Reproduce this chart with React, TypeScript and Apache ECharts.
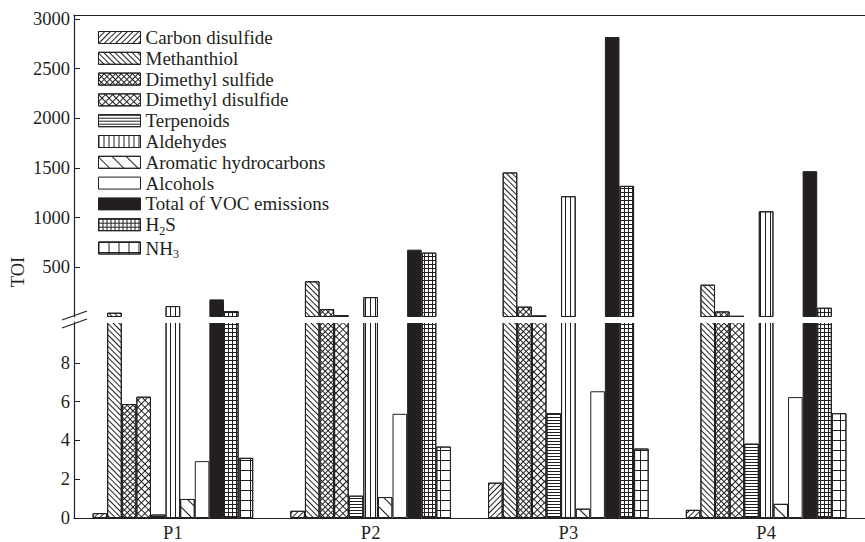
import React, { useEffect, useRef } from 'react';
import * as echarts from 'echarts';

// ---------- data ----------
const categories = ['P1', 'P2', 'P3', 'P4'];
const seriesNames = [
  'Carbon disulfide',
  'Methanthiol',
  'Dimethyl sulfide',
  'Dimethyl disulfide',
  'Terpenoids',
  'Aldehydes',
  'Aromatic hydrocarbons',
  'Alcohols',
  'Total of VOC emissions',
  'H2S',
  'NH3',
];
const carbonDisulfide = [0.25, 0.37, 1.82, 0.42];
const methanthiol = [43, 359, 1455, 325];
const dimethylSulfide = [5.87, 80, 104, 56];
const dimethylDisulfide = [6.25, 18, 16, 12];
const terpenoids = [0.18, 1.15, 5.4, 3.83];
const aldehydes = [110, 200, 1216, 1064];
const aromaticHydrocarbons = [0.98, 1.08, 0.48, 0.73];
const alcohols = [2.93, 5.37, 6.53, 6.23];
const totalVOC = [177, 678, 2818, 1468];
const h2s = [60, 648, 1320, 93];
const nh3 = [3.1, 3.68, 3.58, 5.4];

const lowerTicks = [0, 2, 4, 6, 8];
const upperTicks = [500, 1000, 1500, 2000, 2500, 3000];
const LOWER_MAX = 10.1;
const UPPER_MAX = 3040;

const valuesList = [
  carbonDisulfide,
  methanthiol,
  dimethylSulfide,
  dimethylDisulfide,
  terpenoids,
  aldehydes,
  aromaticHydrocarbons,
  alcohols,
  totalVOC,
  h2s,
  nh3,
];

// ---------- styles ----------
const INK = '#231f20';
const FONT = 'Liberation Serif';

const lines = (rotation: number, gap: number) => ({
  symbol: 'rect',
  symbolSize: 1,
  symbolKeepAspect: false,
  color: INK,
  dashArrayX: [10, 0],
  dashArrayY: [1, gap],
  rotation,
});
// grid of 1px lines: a full line row followed by a row of vertical segments
const gridLines = (px: number, py: number, rotation: number) => ({
  symbol: 'rect',
  symbolSize: 1,
  symbolKeepAspect: false,
  color: INK,
  dashArrayX: [
    [px, 0],
    [1, px - 1],
  ],
  dashArrayY: [1, 0, py - 1, 0],
  rotation,
});

const decals: any[] = [
  lines(-Math.PI / 4, 3), // Carbon disulfide ////
  lines(Math.PI / 4, 3), // Methanthiol \\\\
  gridLines(4, 4, Math.PI / 4), // Dimethyl sulfide dense cross
  gridLines(5, 5, Math.PI / 4), // Dimethyl disulfide sparse cross
  lines(0, 2), // Terpenoids horizontal
  {
    symbol: 'rect',
    symbolSize: 1,
    symbolKeepAspect: false,
    color: INK,
    dashArrayX: [1, 4],
    dashArrayY: [10, 0],
  }, // Aldehydes vertical
  lines(Math.PI / 4, 9), // Aromatic hydrocarbons sparse
  null, // Alcohols
  null, // Total
  gridLines(4, 4, 0), // H2S
  gridLines(10, 10, 0), // NH3
];

export default function App() {
  const ref = useRef<HTMLDivElement>(null);

  useEffect(() => {
    if (!ref.current) return;
    const chart = echarts.init(ref.current, null, { renderer: 'svg' });

    const series: any[] = [];
    seriesNames.forEach((name, i) => {
      const itemStyle: any = {
        color: i === 8 ? INK : '#ffffff',
        borderColor: INK,
        borderWidth: 1,
      };
      if (decals[i]) itemStyle.decal = decals[i];
      const common = {
        type: 'bar',
        name,
        barWidth: 14.6,
        barGap: '0%',
        itemStyle,
        clip: true,
        emphasis: { disabled: true },
      };
      series.push({ ...common, xAxisIndex: 0, yAxisIndex: 0, data: valuesList[i] });
      series.push({
        ...common,
        xAxisIndex: 1,
        yAxisIndex: 1,
        data: valuesList[i].map((v) => (v > LOWER_MAX ? v : '-')),
      });
    });

    const labelStyle = { color: INK, fontFamily: FONT, fontSize: 18.5 };

    chart.setOption({
      animation: false,
      backgroundColor: '#ffffff',
      grid: [
        { left: 74, top: 322, width: 800, height: 202 },
        { left: 74, top: 15, width: 800, height: 302 },
      ],
      legend: {
        orient: 'vertical',
        left: 93,
        top: 23,
        icon: 'rect',
        itemWidth: 42,
        itemHeight: 12,
        itemGap: 1.8,
        data: seriesNames,
        selectedMode: false,
        itemStyle: { borderColor: INK, borderWidth: 1 },
        textStyle: {
          color: INK,
          fontFamily: FONT,
          fontSize: 19,
          rich: {
            n: { color: INK, fontFamily: FONT, fontSize: 19 },
            s: { color: INK, fontFamily: FONT, fontSize: 12, padding: [12, 0, 0, 0] },
          },
        },
        formatter: (name: string) => {
          if (name === 'H2S') return '{n|H}{s|2}{n|S}';
          if (name === 'NH3') return '{n|NH}{s|3}';
          return name;
        },
      },
      xAxis: [
        {
          type: 'category',
          gridIndex: 0,
          data: categories,
          position: 'bottom',
          axisLine: { show: true, onZero: false, lineStyle: { color: INK, width: 1.2 } },
          axisTick: { show: false },
          axisLabel: { ...labelStyle, margin: 5 },
          splitLine: { show: false },
        },
        {
          type: 'category',
          gridIndex: 1,
          data: categories,
          position: 'top',
          axisLine: { show: true, onZero: false, lineStyle: { color: INK, width: 1.2 } },
          axisTick: { show: false },
          axisLabel: { show: false },
          splitLine: { show: false },
        },
      ],
      yAxis: [
        {
          type: 'value',
          gridIndex: 0,
          min: 0,
          max: LOWER_MAX,
          axisLine: { show: true, lineStyle: { color: INK, width: 1.2 } },
          axisTick: {
            show: true,
            inside: true,
            length: 6,
            lineStyle: { color: INK },
            customValues: lowerTicks,
          },
          axisLabel: {
            ...labelStyle,
            margin: 4,
            customValues: lowerTicks,
            formatter: (v: number) => String(v),
          },
          splitLine: { show: false },
        },
        {
          type: 'value',
          gridIndex: 1,
          min: 0,
          max: UPPER_MAX,
          axisLine: { show: true, lineStyle: { color: INK, width: 1.2 } },
          axisTick: {
            show: true,
            inside: true,
            length: 6,
            lineStyle: { color: INK },
            customValues: upperTicks,
          },
          axisLabel: {
            ...labelStyle,
            margin: 4,
            customValues: upperTicks,
            formatter: (v: number) => String(v),
          },
          splitLine: { show: false },
        },
      ],
      graphic: [
        {
          type: 'rect',
          z: 100,
          shape: { x: 75, y: 317, width: 800, height: 6 },
          style: { fill: '#ffffff' },
        },
        {
          type: 'line',
          z: 101,
          shape: { x1: 62, y1: 320, x2: 87, y2: 311 },
          style: { stroke: INK, lineWidth: 1.2 },
        },
        {
          type: 'line',
          z: 101,
          shape: { x1: 62, y1: 328, x2: 87, y2: 319 },
          style: { stroke: INK, lineWidth: 1.2 },
        },
        {
          type: 'text',
          z: 101,
          x: 18,
          y: 272,
          rotation: Math.PI / 2,
          style: {
            text: 'TOI',
            font: `18.5px "${FONT}"`,
            fill: INK,
            textAlign: 'center',
            textVerticalAlign: 'middle',
          },
        },
      ],
      series,
    });

    return () => chart.dispose();
  }, []);

  return (
    <div
      ref={ref}
      style={{ position: 'fixed', left: 0, top: 0, width: 865, height: 542, background: '#fff' }}
    />
  );
}
